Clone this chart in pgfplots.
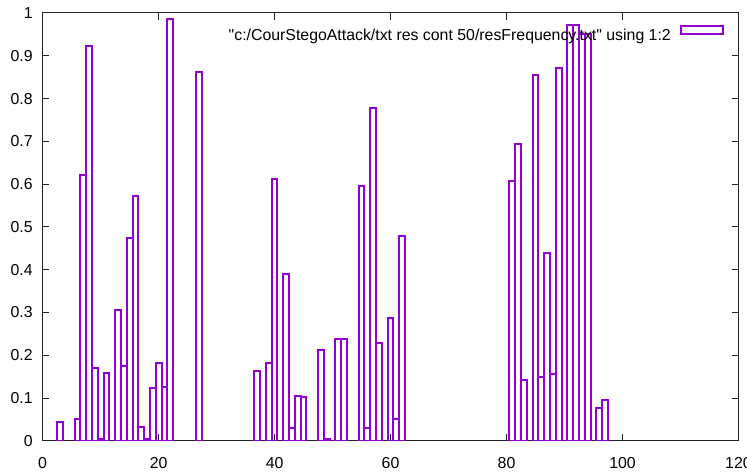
\documentclass[border=0pt]{standalone}
\usepackage{fontspec}
\setmainfont{Liberation Sans}
\usepackage{pgfplots}
\pgfplotsset{compat=1.18}
\definecolor{gpurple}{RGB}{148,0,211}
\definecolor{bordercol}{RGB}{34,34,34}
\pgfplotstableread{
x y
3 0.044
6 0.050
7 0.622
8 0.924
9 0.171
10 0.005
11 0.159
13 0.305
14 0.174
15 0.473
16 0.572
17 0.033
18 0.005
19 0.124
20 0.183
21 0.126
22 0.987
27 0.861
37 0.163
39 0.183
40 0.611
42 0.391
43 0.030
44 0.105
45 0.103
48 0.212
49 0.005
51 0.238
52 0.238
55 0.596
56 0.030
57 0.778
58 0.229
60 0.288
61 0.050
62 0.478
81 0.608
82 0.695
83 0.142
85 0.854
86 0.150
87 0.438
88 0.156
89 0.872
91 0.973
92 0.973
93 0.952
94 0.952
96 0.078
97 0.095
}\freqdata
\begin{document}
\begin{tikzpicture}
\begin{axis}[
  scale only axis, width=522pt, height=321pt,
  xmin=0, xmax=120, ymin=0, ymax=1,
  xtick={0,20,40,60,80,100,120},
  ytick={0,0.1,0.2,0.3,0.4,0.5,0.6,0.7,0.8,0.9,1},
  yticklabels={0,0.1,0.2,0.3,0.4,0.5,0.6,0.7,0.8,0.9,1},
  minor tick num=0,
  tick align=inside, major tick length=5pt,
  xtick pos=both, ytick pos=both,
  axis line style={color=bordercol, line width=0.75pt},
  every tick/.style={color=bordercol, line width=0.75pt},
  /pgf/number format/assume math mode=true,
  ticklabel style={font=\fontsize{11.9}{14}\selectfont},
  yticklabel style={anchor=east, xshift=-4pt},
  xticklabel style={yshift=-9pt},
  legend plot pos=right,
  legend style={draw=none, fill=none, at={(1,1)}, anchor=north east,
    xshift=-11pt, yshift=-9.1pt, inner sep=0pt, outer sep=0pt,
    nodes={inner sep=0pt, outer sep=0pt}, column sep=6.75pt,
    font=\fontsize{11.9}{14}\selectfont},
]
\addplot[ybar, bar width=1, bar shift=0pt, draw=gpurple, fill=none, line width=1.5pt,
  legend image code/.code={\draw[draw=gpurple, line width=1.5pt] (0pt,1.3pt) rectangle (31.5pt,7.1pt);}]
  table[x=x, y=y] {\freqdata};
\addlegendentry{\textquotedbl c:/CourStegoAttack/txt res cont 50/resFrequency.txt\textquotedbl{} using 1:2}
\end{axis}
\pgfresetboundingbox
\path ([shift={(-32pt,-23.5pt)}]current axis.south west) rectangle ([shift={(6.4pt,9.75pt)}]current axis.north east);
\end{tikzpicture}
\end{document}
